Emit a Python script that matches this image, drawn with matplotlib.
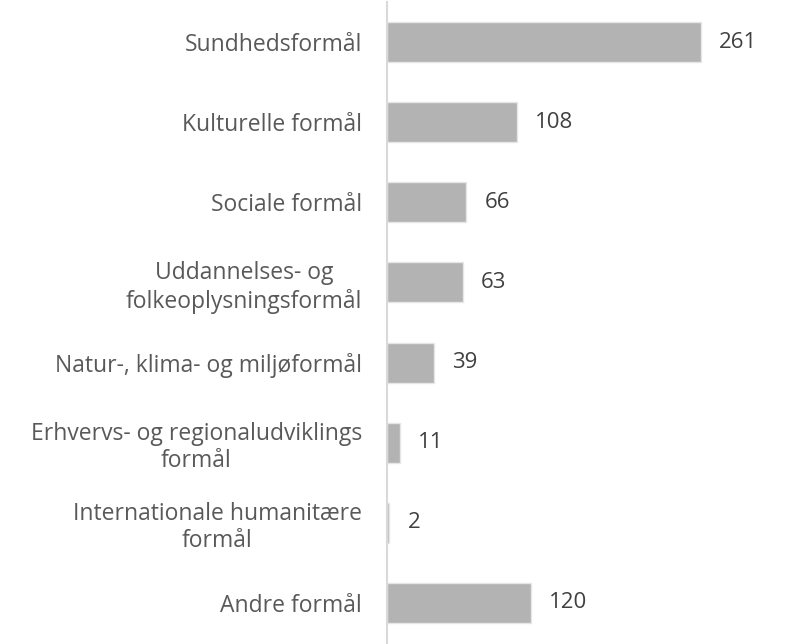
import matplotlib.pyplot as plt
import numpy as np

plt.rcParams['font.family'] = ['Open Sans', 'DejaVu Sans']

# data
kategorier = ['Sundhedsformål', 'Kulturelle formål', 'Sociale formål',
              'Uddannelses- og\nfolkeoplysningsformål', 'Natur-, klima- og miljøformål',
              'Erhvervs- og regionaludviklings\nformål', 'Internationale humanitære\nformål',
              'Andre formål']
antal = [261, 108, 66, 63, 39, 11, 2, 120]

fig = plt.figure(figsize=(7.87, 6.44), dpi=100)
ax = fig.add_axes([387 / 787, 1 - 643 / 644, 397 / 787, 641 / 644])

y = np.arange(len(kategorier))
ax.barh(y, antal, height=0.5, color='#b3b3b3', edgecolor='#e6e6e6', linewidth=1)

for yi, v in zip(y, antal):
    ax.text(v + 15, yi, str(v), va='center', ha='left', fontsize=16, color='#404040')

ax.set_yticks(y)
ax.set_yticklabels(kategorier, fontsize=16.5, color='#595959', linespacing=1.2)
for lab in ax.get_yticklabels():
    lab.set_multialignment('center')
ax.tick_params(axis='y', length=0, pad=18)
ax.set_xticks([])
ax.set_ylim(len(kategorier) - 0.5, -0.5)
ax.set_xlim(0, 330)

for s in ['top', 'right', 'bottom']:
    ax.spines[s].set_visible(False)
ax.spines['left'].set_color('#d9d9d9')
ax.spines['left'].set_linewidth(1.5)

fig.savefig('out.png', dpi=100)
